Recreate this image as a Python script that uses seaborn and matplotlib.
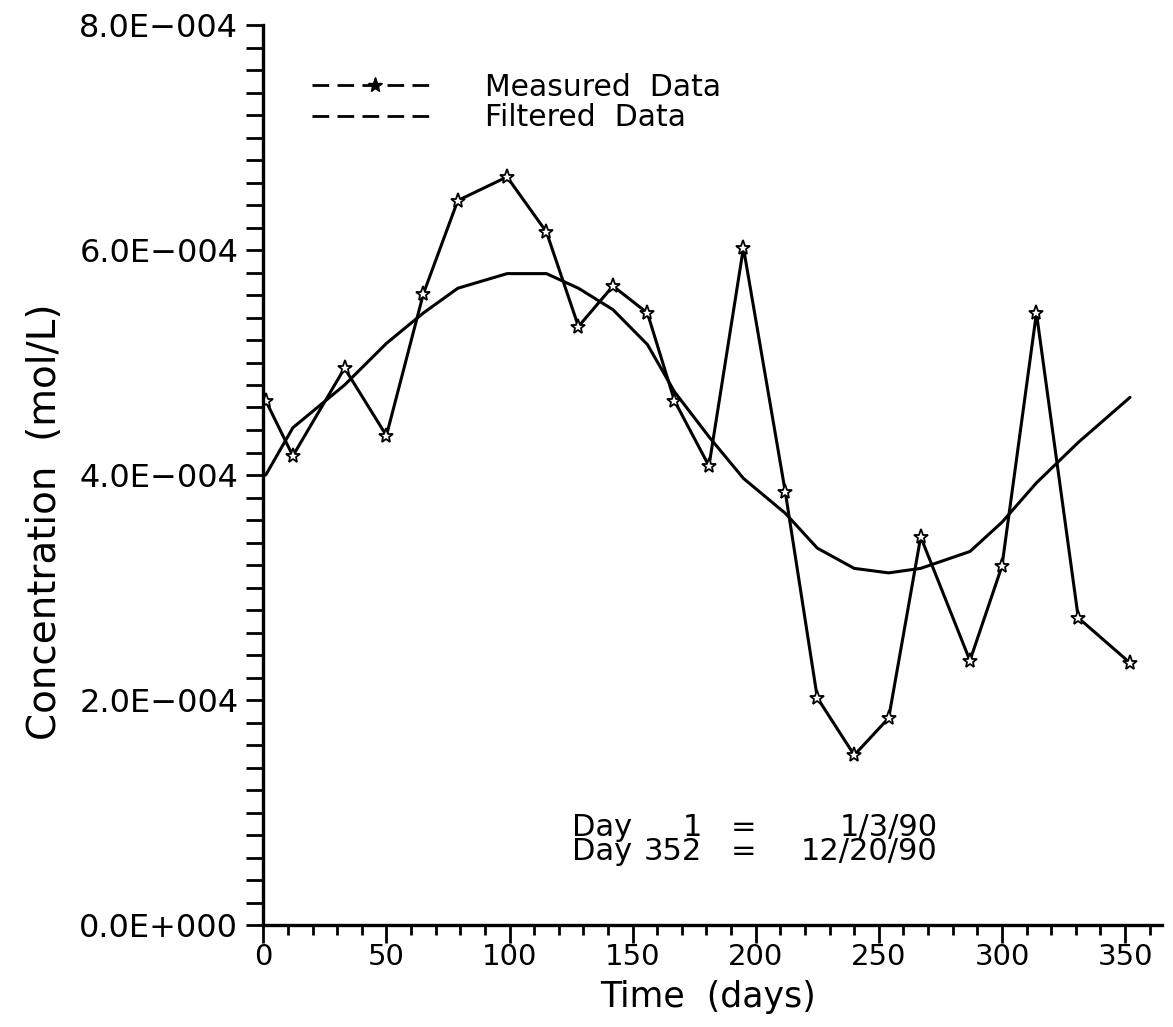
import matplotlib
matplotlib.use("Agg")
import matplotlib.pyplot as plt
import matplotlib.ticker as mticker
from matplotlib.lines import Line2D
import numpy as np
import pandas as pd
import seaborn as sns

# Sampling days (Day 1 = 1/3/90, Day 352 = 12/20/90)
days = [1, 12, 33, 50, 65, 79, 99, 115, 128, 142, 156, 167,
        181, 195, 212, 225, 240, 254, 267, 287, 300, 314, 331, 352]

# Concentrations in units of 1E-4 mol/L
measured = [4.66, 4.17, 4.95, 4.35, 5.61, 6.44, 6.65, 6.16, 5.32, 5.68, 5.44, 4.66,
            4.08, 6.02, 3.85, 2.02, 1.51, 1.84, 3.45, 2.35, 3.19, 5.44, 2.73, 2.33]
filtered = [4.00, 4.42, 4.80, 5.17, 5.44, 5.66, 5.79, 5.79, 5.66, 5.47, 5.16, 4.74,
            4.34, 3.97, 3.66, 3.35, 3.17, 3.13, 3.17, 3.32, 3.58, 3.93, 4.29, 4.69]

series_labels = ["Measured  Data", "Filtered  Data"]
x_ticks = [0, 50, 100, 150, 200, 250, 300, 350]
y_ticks = [0.0, 2.0e-4, 4.0e-4, 6.0e-4, 8.0e-4]

# Calendar key: day number -> date
key_days = ["1", "352"]
key_dates = ["1/3/90", "12/20/90"]

df = pd.DataFrame({
    "day": days,
    "measured": np.array(measured) * 1e-4,
    "filtered": np.array(filtered) * 1e-4,
})

sns.set_style("ticks")
plt.rcParams["font.family"] = ["DejaVu Sans"]
plt.rcParams["text.color"] = "black"
plt.rcParams["axes.labelcolor"] = "black"
plt.rcParams["xtick.color"] = "black"
plt.rcParams["ytick.color"] = "black"

fig = plt.figure(figsize=(11.73, 10.27), dpi=100)
ax = fig.add_axes([263.3 / 1173, (1027 - 925) / 1027,
                   (1162 - 263.3) / 1173, 900 / 1027])

sns.lineplot(data=df, x="day", y="measured", ax=ax, color="black", lw=2.2,
             marker="*", markersize=11, markerfacecolor="white",
             markeredgecolor="black", markeredgewidth=1.3)
sns.lineplot(data=df, x="day", y="filtered", ax=ax, color="black", lw=2.2)

ax.set_xlim(0, 365)
ax.set_ylim(0, 8e-4)
sns.despine(ax=ax)
for side in ("left", "bottom"):
    ax.spines[side].set_linewidth(2.4)
    ax.spines[side].set_color("black")


def sci_label(v, _pos):
    if abs(v) < 1e-12:
        return "0.0E+000"
    exp = int(np.floor(np.log10(abs(v)) + 1e-9))
    mant = v / 10 ** exp
    sign = "+" if exp >= 0 else "\u2212"
    return f"{mant:.1f}E{sign}{abs(exp):03d}"


ax.set_xticks(x_ticks)
ax.xaxis.set_minor_locator(mticker.MultipleLocator(10))
ax.set_yticks(y_ticks)
ax.yaxis.set_minor_locator(mticker.MultipleLocator(2e-5))
ax.yaxis.set_major_formatter(mticker.FuncFormatter(sci_label))

ax.tick_params(axis="x", which="major", direction="out", length=13, width=2,
               labelsize=21, pad=0, bottom=True)
ax.tick_params(axis="x", which="minor", direction="out", length=7, width=2,
               bottom=True)
ax.tick_params(axis="y", which="both", direction="out", length=12, width=2,
               left=True)
ax.tick_params(axis="y", which="major", labelsize=23, pad=6)

ax.set_xlabel("Time  (days)", fontsize=25)
ax.set_ylabel("Concentration  (mol/L)", fontsize=28)
ax.xaxis.set_label_coords(0.495, -0.061)
ax.yaxis.set_label_coords(-0.222, 0.448)

handles = [
    Line2D([], [], color="black", lw=2, ls=(0, (6, 3)), marker="*",
           markersize=11, markerfacecolor="black"),
    Line2D([], [], color="black", lw=2, ls=(0, (6, 3))),
]
ax.legend(handles, series_labels, loc="upper left",
          bbox_to_anchor=(0.054, 0.947), frameon=False, fontsize=21.5,
          handlelength=4.2, handletextpad=1.6, borderpad=0,
          borderaxespad=0, labelspacing=0.05, numpoints=1,
          labelcolor="black")

# Calendar key, laid out in columns
key_y = 0.095
key_style = dict(transform=ax.transAxes, fontsize=22, va="center",
                 linespacing=0.8)
ax.text(0.3435, key_y, "\n".join("Day" for _ in key_days), ha="left",
        **key_style)
ax.text(0.488, key_y, "\n".join(key_days), ha="right",
        multialignment="right", **key_style)
ax.text(0.534, key_y, "\n".join("=" for _ in key_days), ha="center",
        **key_style)
ax.text(0.75, key_y, "\n".join(key_dates), ha="right",
        multialignment="right", **key_style)

fig.savefig("out.png", dpi=100, facecolor="white")
